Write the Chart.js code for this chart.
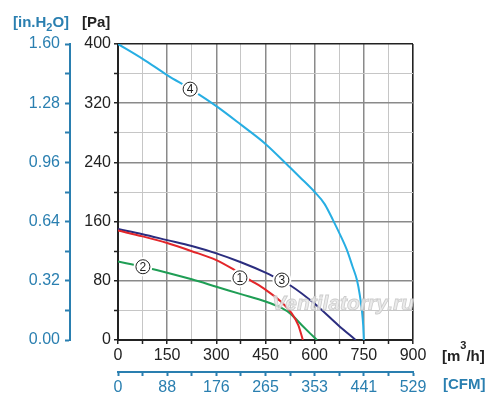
<!DOCTYPE html>
<html>
<head>
<meta charset="utf-8">
<script src="https://cdn.jsdelivr.net/npm/chart.js@4.4.1/dist/chart.umd.min.js"></script>
<style>
  html, body { margin: 0; padding: 0; background: #fff; }
  #wrap { width: 500px; height: 407px; position: relative; }
</style>
</head>
<body>
<div id="wrap"><canvas id="c" width="500" height="407"></canvas></div>
<script>
// ---- data (airflow m3/h, pressure Pa) ----
const flow1 = [0, 75, 150, 225, 300, 350, 403, 450, 494, 530, 550, 564];
const pres1 = [148, 140, 131, 120, 108, 96, 81, 68, 53, 36, 20, 0];

const flow2 = [0, 75, 150, 225, 300, 375, 450, 500, 525, 561, 586, 607];
const pres2 = [106, 99, 91, 82, 72, 62, 52, 43, 36, 20, 9, 0];

const flow3 = [0, 75, 150, 225, 300, 375, 450, 500, 525, 600, 672, 725];
const pres3 = [150, 143, 135, 127, 117, 105, 91, 80, 74, 49, 20, 0];

const flow4 = [0, 75, 150, 225, 300, 375, 450, 525, 555, 600, 630, 656, 680, 698, 715, 729, 738, 744, 748, 750];
const pres4 = [400, 380, 358, 338, 316, 291, 265, 233, 220, 200, 184, 162, 140, 122, 100, 81, 60, 40, 20, 0];

const seriesNames = ['1', '2', '3', '4'];
const labelFlow = [372, 76, 500, 220];
const labelPres = [84, 99, 81, 339];

const cfmLabels = ['0', '88', '176', '265', '353', '441', '529'];
const h2oLabels = ['0.00', '0.32', '0.64', '0.96', '1.28', '1.60'];

// ---- styles ----
const BLUE = '#2a7fb0';
const FONT = "'Liberation Sans', Arial, Helvetica, sans-serif";
const colors = ['#e3262a', '#1f9e55', '#2b2d7f', '#27aee3'];

function pts(xs, ys) { return xs.map((x, i) => ({ x: x, y: ys[i] })); }

const datasets = [
  pts(flow1, pres1), pts(flow2, pres2), pts(flow3, pres3), pts(flow4, pres4)
].map((d, i) => ({
  label: seriesNames[i],
  data: d,
  borderColor: colors[i],
  borderWidth: 2,
  pointRadius: 0,
  fill: false,
  tension: 0.4,
  cubicInterpolationMode: 'monotone',
  xAxisID: 'x',
  yAxisID: 'y'
}));

const overlay = {
  id: 'overlay',
  afterDatasetsDraw(chart) {
    const ctx = chart.ctx;
    const sx = chart.scales.x, sy = chart.scales.y;
    ctx.save();
    // watermark
    ctx.font = "italic bold 21px " + FONT;
    ctx.textAlign = 'left';
    ctx.textBaseline = 'alphabetic';
    ctx.fillStyle = 'rgba(232,232,232,0.85)';
    ctx.strokeStyle = 'rgba(200,200,200,0.9)';
    ctx.lineWidth = 0.8;
    ctx.fillText('Ventilatorry.ru', 272, 310);
    ctx.strokeText('Ventilatorry.ru', 272, 310);
    // circle labels
    for (let i = 0; i < seriesNames.length; i++) {
      const px = sx.getPixelForValue(labelFlow[i]);
      const py = sy.getPixelForValue(labelPres[i]);
      ctx.beginPath();
      ctx.arc(px, py, 9.5, 0, Math.PI * 2);
      ctx.fillStyle = '#fff';
      ctx.fill();
      ctx.beginPath();
      ctx.arc(px, py, 7, 0, Math.PI * 2);
      ctx.strokeStyle = '#222';
      ctx.lineWidth = 1;
      ctx.stroke();
      ctx.fillStyle = '#222';
      ctx.font = "12px " + FONT;
      ctx.textAlign = 'center';
      ctx.textBaseline = 'middle';
      ctx.fillText(seriesNames[i], px, py + 0.5);
    }
    ctx.restore();
  },
  afterDraw(chart) {
    const ctx = chart.ctx;
    ctx.save();
    ctx.textBaseline = 'alphabetic';
    ctx.textAlign = 'left';
    // [in.H2O]
    ctx.fillStyle = BLUE;
    ctx.font = "bold 15px " + FONT;
    let x = 13;
    ctx.fillText('[in.H', x, 27);
    x += ctx.measureText('[in.H').width;
    ctx.font = "bold 11px " + FONT;
    ctx.fillText('2', x, 31);
    x += ctx.measureText('2').width;
    ctx.font = "bold 15px " + FONT;
    ctx.fillText('O]', x, 27);
    // [Pa]
    ctx.fillStyle = '#222';
    ctx.fillText('[Pa]', 82, 27);
    // [m3/h]
    x = 442;
    ctx.fillText('[m', x, 361);
    x += ctx.measureText('[m').width;
    ctx.font = "bold 11px " + FONT;
    ctx.fillText('3', x, 349);
    x += ctx.measureText('3').width;
    ctx.font = "bold 15px " + FONT;
    ctx.fillText('/h]', x, 361);
    // [CFM]
    ctx.fillStyle = BLUE;
    ctx.fillText('[CFM]', 443, 389);
    ctx.restore();
  }
};

function gridColX(ctx) {
  const v = ctx.tick ? ctx.tick.value : 0;
  if (v === 900) return '#222';
  return v % 150 === 0 ? '#8a8a8a' : '#c6c6c6';
}
function gridColY(ctx) {
  const v = ctx.tick ? ctx.tick.value : 0;
  if (v === 400) return '#222';
  return v % 80 === 0 ? '#8a8a8a' : '#c6c6c6';
}
function gridWX(ctx) {
  const v = ctx.tick ? ctx.tick.value : 0;
  if (v === 900) return 1.6;
  return v % 150 === 0 ? 1.5 : 1;
}
function gridWY(ctx) {
  const v = ctx.tick ? ctx.tick.value : 0;
  if (v === 400) return 1.6;
  return v % 80 === 0 ? 1.5 : 1;
}

new Chart(document.getElementById('c'), {
  type: 'line',
  data: { datasets: datasets },
  options: {
    responsive: false,
    animation: false,
    devicePixelRatio: 1,
    layout: { padding: { top: 44, right: 87, left: 0, bottom: 0 } },
    plugins: { legend: { display: false }, tooltip: { enabled: false } },
    scales: {
      x: {
        type: 'linear', position: 'bottom', min: 0, max: 900, weight: 0,
        afterFit(s) { s.height = 32; },
        ticks: {
          stepSize: 75, autoSkip: false, maxRotation: 0, padding: 2,
          color: '#222', font: { family: FONT, size: 16 },
          callback: v => (v % 150 === 0 ? String(v) : '')
        },
        grid: { color: gridColX, lineWidth: gridWX, tickColor: '#222', tickLength: 4, tickWidth: 1.5 },
        border: { display: true, color: '#222', width: 2 }
      },
      xcfm: {
        type: 'linear', position: 'bottom', min: 0, max: 900, weight: 1,
        afterFit(s) { s.height = 35; },
        ticks: {
          stepSize: 75, autoSkip: false, maxRotation: 0, padding: 2,
          color: BLUE, font: { family: FONT, size: 16 },
          callback: v => (v % 150 === 0 ? cfmLabels[v / 150] : '')
        },
        grid: { drawOnChartArea: false, tickColor: BLUE, tickLength: 4, tickWidth: 2 },
        border: { display: true, color: BLUE, width: 2 }
      },
      y: {
        type: 'linear', position: 'left', min: 0, max: 400, weight: 0,
        afterFit(s) { s.width = 48; },
        ticks: {
          stepSize: 40, autoSkip: false, padding: 3,
          color: '#222', font: { family: FONT, size: 16 },
          callback: v => (v % 80 === 0 ? String(v) : '')
        },
        grid: { color: gridColY, lineWidth: gridWY, tickColor: '#222', tickLength: 4, tickWidth: 1.5 },
        border: { display: true, color: '#222', width: 2 }
      },
      yh2o: {
        type: 'linear', position: 'left', min: 0, max: 400, weight: 1,
        afterFit(s) { s.width = 70; },
        ticks: {
          stepSize: 40, autoSkip: false, padding: 5,
          color: BLUE, font: { family: FONT, size: 16 },
          callback: v => (v % 80 === 0 ? h2oLabels[v / 80] : '')
        },
        grid: { drawOnChartArea: false, tickColor: BLUE, tickLength: 5, tickWidth: 2 },
        border: { display: true, color: BLUE, width: 2 }
      }
    }
  },
  plugins: [overlay]
});
</script>
</body>
</html>
